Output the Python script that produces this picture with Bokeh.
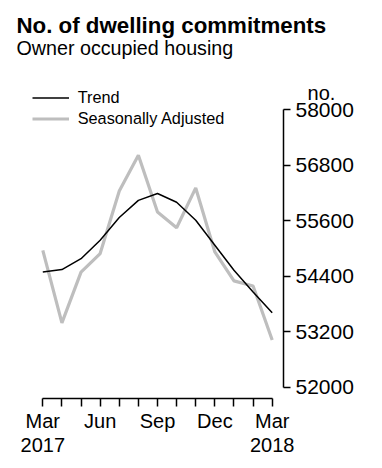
from bokeh.plotting import figure
from bokeh.models import (Range1d, LinearAxis, FixedTicker, Label, Legend,
                          LegendItem, NumeralTickFormatter)
from bokeh.embed import file_html
from bokeh.resources import INLINE

# ---- data ----
months = list(range(13))  # Mar 2017 .. Mar 2018
trend = [54490, 54545, 54780, 55180, 55670, 56040, 56190, 56000, 55610, 55070, 54530, 54060, 53610]
seas_adj = [54960, 53390, 54490, 54890, 56245, 57015, 55790, 55450, 56310, 54925, 54300, 54190, 53020]
x_tick_labels = {0: "Mar\n2017", 3: "Jun", 6: "Sep", 9: "Dec", 12: "Mar\n2018"}
y_ticks = [52000, 53200, 54400, 55600, 56800, 58000]

FONT = "Liberation Sans"

p = figure(width=382, height=468, x_range=Range1d(-2.213, 17.77),
           y_range=Range1d(50241.5, 60364), output_backend="svg",
           toolbar_location=None, x_axis_location=None, y_axis_location=None,
           min_border=0, min_border_left=0, min_border_top=0,
           min_border_right=0, min_border_bottom=0)
p.title.visible = False
p.outline_line_color = None
p.background_fill_color = "white"
p.grid.visible = False

r_sa = p.line(months, seas_adj, line_color="#BEBEBE", line_width=3.2)
r_tr = p.line(months, trend, line_color="black", line_width=1.5)

overrides = {m: x_tick_labels.get(m, "") for m in months}
xaxis = LinearAxis(ticker=FixedTicker(ticks=months), bounds=(0, 12),
                   fixed_location=51749,
                   major_label_overrides=overrides,
                   major_tick_out=8, major_tick_in=0,
                   minor_tick_out=0, minor_tick_in=0,
                   axis_line_width=1.5, major_tick_line_width=1.5,
                   major_label_standoff=3,
                   major_label_text_font=FONT,
                   major_label_text_font_size="20px",
                   major_label_text_line_height=1.1,
                   major_label_text_color="black")
p.add_layout(xaxis, "below")

yaxis = LinearAxis(ticker=FixedTicker(ticks=y_ticks), bounds=(52000, 58000),
                   fixed_location=12.59,
                   formatter=NumeralTickFormatter(format="0"),
                   major_tick_out=7, major_tick_in=0,
                   minor_tick_out=0, minor_tick_in=0,
                   axis_line_width=1.5, major_tick_line_width=1.5,
                   major_label_standoff=5,
                   major_label_text_font=FONT,
                   major_label_text_font_size="21px",
                   major_label_text_color="black")
p.add_layout(yaxis, "right")

legend = Legend(items=[LegendItem(label="Trend", renderers=[r_tr]),
                       LegendItem(label="Seasonally Adjusted", renderers=[r_sa])],
                location=(31.7, 339.2), padding=0, margin=0, spacing=0,
                glyph_width=37, glyph_height=21, label_height=21,
                label_standoff=9, border_line_color=None,
                background_fill_alpha=0,
                label_text_font=FONT, label_text_font_size="16.3px",
                label_text_color="black")
p.add_layout(legend)

p.add_layout(Label(x=16, y=443, x_units="screen", y_units="screen",
                   text="No. of dwelling commitments", text_font=FONT,
                   text_font_size="22.3px", text_font_style="bold",
                   text_color="black", text_baseline="alphabetic"))
p.add_layout(Label(x=16, y=421, x_units="screen", y_units="screen",
                   text="Owner occupied housing", text_font=FONT,
                   text_font_size="19.7px", text_color="black",
                   text_baseline="alphabetic"))
p.add_layout(Label(x=321, y=376, x_units="screen", y_units="screen",
                   text="no.", text_font=FONT, text_font_size="20px",
                   text_color="black", text_align="center",
                   text_baseline="alphabetic"))

open("out.html", "w").write(file_html(p, INLINE))
